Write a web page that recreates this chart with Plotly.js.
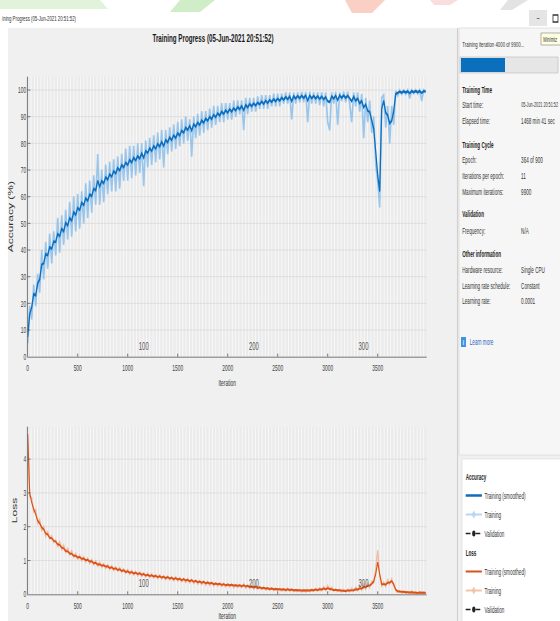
<!DOCTYPE html>
<html>
<head>
<meta charset="utf-8">
<script src="https://cdn.plot.ly/plotly-3.0.1.min.js"></script>
<style>
html,body{margin:0;padding:0;overflow:hidden;background:#fff;width:560px;height:621px;}
#wrap{position:fixed;left:0;top:0;width:560px;height:621px;overflow:hidden;}
#chart{position:absolute;left:0;top:0;transform-origin:0 0;}
</style>
</head>
<body>
<div id="wrap"><div id="chart"></div></div>
<script>
// ---------------- DATA ----------------
const rawStep = 20; // training points every 20 iterations
const accRaw = [
 5,19,14,27,19,31,24,40,29,43,33,46,35,47,38,52,39,53,42,55,
 44,58,45,60,47,61,48,62,50,65,52,66,54,68,57,76,57,70,58,72,
 61,73,62,74,62,75,63,76,66,78,66,79,67,79,68,80,69,80,64,81,
 71,82,72,83,73,84,74,85,71,85,76,86,77,87,78,88,79,89,80,90,
 81,89,75,90,82,91,83,92,84,92,85,93,86,94,87,94,88,95,88,95,
 89,95,89,96,90,96,91,96,85,97,91,97,92,97,92,97.5,93,98,93,98,
 93,98,94,98.5,94,98.5,94,98.5,95,99,95,99,89,99,95,99,95.5,99.2,95.5,99.2,
 88,99.3,95,99,95,99,94.5,99,94,99,88,85,99,95,99.3,87,99,96,99.3,95.5,
 99.3,95,88,99,94,99,92,98.5,82,97,88,96,84,90,72,66,56,97,98,86,
 94,80,94,87,99.5,98,99.8,98.5,99.8,98.5,99.9,97,99.9,98.8,99.9,98.7,99.9,96,99.9,99.2
];
const accSmooth = [
 7.5,16,18.5,23.5,23,27.5,29,34.5,35,38.5,
 38,41,40.5,43.2,43,46,45.2,48,47,50.2,
 49.2,52,51,54.2,53.2,55.8,55,57.8,56.8,59.4,
 58.5,60.8,60.2,63,62.4,66,63.8,65.9,65,67.3,
 66.4,68.4,67.5,69.6,68.7,70.8,69.8,71.9,71,72.8,
 71.9,73.8,72.8,74.6,73.6,75.2,74.3,76.3,74.6,77.2,
 76.4,78.2,77.1,79,78,79.8,78.8,80.6,79,81.3,
 80.4,82.2,81.2,83,82,83.8,82.9,84.8,84,85.9,
 85,86.6,84.8,87.2,86.3,87.8,86.9,88.6,87.7,89.3,
 88.5,90,89.1,90.7,89.8,91.3,90.4,91.9,91,92.4,
 91.5,92.8,91.9,93.2,92.3,93.6,92.8,94,92.4,94.4,
 93.5,94.8,93.9,95,94.2,95.3,94.6,95.7,94.8,96,
 95.1,96.3,95.5,96.6,95.8,96.8,96,97.1,96.3,97.4,
 96.5,97.6,95.8,97.7,96.8,97.8,96.9,97.9,97,98,
 96,97.9,96.9,97.8,96.8,97.7,96.6,97.6,96.5,97.4,
 95.8,95.5,97.6,96.8,97.9,96.2,98,97.1,98,97,
 97.9,96.8,95.8,97.5,96,96.8,95,95.9,93.5,94.6,
 92.2,91.8,88.5,85.5,77,68,62,93,96,91.5,
 90.5,87.5,88.5,92,98.5,98.9,99.4,99,99.5,99.1,
 99.5,98.8,99.6,99.2,99.6,99.2,99.6,98.9,99.6,99.5
];
const lossRaw = [
 4.7,2.9,2.85,2.45,2.5,2.1,2.2,1.9,2.0,1.72,1.85,1.65,1.72,1.55,1.6,1.42,1.55,1.33,1.45,1.25,
 1.35,1.17,1.28,1.1,1.2,1.05,1.15,1.0,1.1,0.96,1.06,0.92,1.02,0.88,0.98,0.84,0.94,0.8,0.9,0.77,
 0.87,0.74,0.84,0.71,0.8,0.69,0.78,0.66,0.74,0.63,0.72,0.6,0.69,0.58,0.67,0.56,0.65,0.54,0.63,0.52,
 0.61,0.5,0.59,0.49,0.57,0.47,0.56,0.46,0.54,0.44,0.53,0.43,0.51,0.41,0.5,0.4,0.48,0.38,0.46,0.36,
 0.45,0.35,0.43,0.33,0.41,0.31,0.4,0.3,0.38,0.28,0.37,0.27,0.35,0.26,0.33,0.25,0.32,0.24,0.31,0.23,
 0.3,0.22,0.29,0.21,0.28,0.21,0.27,0.2,0.3,0.19,0.26,0.18,0.24,0.17,0.23,0.16,0.21,0.15,0.2,0.14,
 0.19,0.13,0.18,0.12,0.17,0.12,0.16,0.11,0.15,0.1,0.17,0.1,0.14,0.09,0.13,0.09,0.13,0.08,0.12,0.08,
 0.13,0.09,0.14,0.1,0.16,0.1,0.18,0.11,0.22,0.12,0.25,0.13,0.2,0.1,0.15,0.09,0.14,0.08,0.13,0.08,
 0.14,0.09,0.17,0.1,0.2,0.12,0.25,0.13,0.3,0.16,0.32,0.2,0.38,0.35,0.75,1.3,0.55,0.25,0.35,0.24,
 0.42,0.3,0.45,0.25,0.12,0.07,0.1,0.05,0.08,0.04,0.07,0.04,0.08,0.03,0.06,0.03,0.06,0.03,0.06,0.04
];
const lossSmooth = [
 4.75,3.0,2.72,2.52,2.37,2.18,2.1,1.98,1.92,1.8,
 1.77,1.67,1.66,1.58,1.56,1.48,1.46,1.38,1.36,1.28,
 1.27,1.21,1.2,1.14,1.14,1.09,1.1,1.05,1.06,1.01,
 1.02,0.97,0.98,0.92,0.93,0.88,0.89,0.85,0.86,0.82,
 0.83,0.78,0.8,0.75,0.77,0.72,0.74,0.69,0.71,0.66,
 0.68,0.64,0.66,0.62,0.64,0.6,0.62,0.58,0.6,0.56,
 0.58,0.54,0.56,0.53,0.55,0.51,0.53,0.5,0.52,0.48,
 0.51,0.47,0.49,0.45,0.48,0.44,0.46,0.42,0.45,0.41,
 0.43,0.39,0.42,0.37,0.4,0.36,0.38,0.34,0.37,0.33,
 0.35,0.32,0.34,0.3,0.32,0.3,0.31,0.28,0.3,0.27,
 0.29,0.27,0.28,0.26,0.27,0.25,0.27,0.24,0.27,0.23,
 0.25,0.22,0.23,0.2,0.22,0.19,0.21,0.18,0.19,0.17,
 0.18,0.16,0.17,0.15,0.16,0.15,0.16,0.14,0.15,0.13,
 0.15,0.13,0.14,0.12,0.13,0.12,0.13,0.11,0.12,0.11,
 0.12,0.11,0.13,0.12,0.14,0.13,0.15,0.14,0.17,0.15,
 0.18,0.16,0.16,0.13,0.13,0.12,0.12,0.11,0.11,0.1,
 0.11,0.11,0.13,0.12,0.15,0.14,0.17,0.17,0.21,0.21,
 0.25,0.26,0.31,0.38,0.6,0.95,0.6,0.3,0.3,0.29,
 0.34,0.35,0.39,0.3,0.14,0.09,0.08,0.07,0.07,0.06,
 0.06,0.05,0.06,0.05,0.05,0.04,0.05,0.04,0.05,0.04
];
const iterTicks = [0,500,1000,1500,2000,2500,3000,3500];
const accTicks = [0,10,20,30,40,50,60,70,80,90,100];
const lossTicks = [0,1,2,3,4];
const epochMarks = [1100,2200,3300];
const epochLabels = ['100','200','300'];
const infoRows = [
 ['Training Time','',true,90],
 ['Start time:','05-Jun-2021 20:51:52',false,105],
 ['Elapsed time:','1468 min 41 sec',false,121],
 ['Training Cycle','',true,145],
 ['Epoch:','364 of 900',false,160],
 ['Iterations per epoch:','11',false,176],
 ['Maximum iterations:','9900',false,192],
 ['Validation','',true,214],
 ['Frequency:','N/A',false,231],
 ['Other information','',true,254],
 ['Hardware resource:','Single CPU',false,270],
 ['Learning rate schedule:','Constant',false,286],
 ['Learning rate:','0.0001',false,301]
];
// ---------------------------------------------------------------

const S = 0.54;                 // horizontal squeeze of the screenshot
const W = Math.round(560 / S);
const H = 621;
const el = document.getElementById('chart');
el.style.width = W + 'px'; el.style.height = H + 'px';
el.style.transform = 'scaleX(' + (560 / W) + ')';

const FONT = "'Liberation Sans', Arial, sans-serif";
const px = x => x / 560;
const py = y => 1 - y / 621;

const accIter = accRaw.map((_, i) => i * rawStep);
const accSmoothIter = accSmooth.map((_, i) => i * rawStep);
const lossIter = lossRaw.map((_, i) => i * rawStep);
const lossSmoothIter = lossSmooth.map((_, i) => i * rawStep);

const traces = [
 {x: accIter, y: accRaw, xaxis:'x', yaxis:'y', mode:'lines', line:{color:'rgba(120,182,234,0.72)', width:3}, showlegend:false, hoverinfo:'skip'},
 {x: accSmoothIter, y: accSmooth, xaxis:'x', yaxis:'y', mode:'lines', line:{color:'#0b6ebf', width:2.4}, name:'Training (smoothed)', legendgroup:'acc', legendgrouptitle:{text:'Accuracy', font:{size:8.5, weight:'bold', color:'#222'}}, legendrank:1},
 {x:[null], y:[null], xaxis:'x', yaxis:'y', mode:'lines+markers', line:{color:'#b7d6f0', width:2}, marker:{symbol:'diamond', size:6, color:'#b7d6f0'}, name:'Training', legendgroup:'acc', legendrank:2},
 {x:[null], y:[null], xaxis:'x', yaxis:'y', mode:'lines+markers', line:{color:'#222', width:1.5, dash:'dash'}, marker:{symbol:'circle', size:6, color:'#222'}, name:'Validation', legendgroup:'acc', legendrank:3},
 {x: lossIter, y: lossRaw, xaxis:'x2', yaxis:'y2', mode:'lines', line:{color:'rgba(242,150,110,0.6)', width:2.4}, showlegend:false, hoverinfo:'skip'},
 {x: lossSmoothIter, y: lossSmooth, xaxis:'x2', yaxis:'y2', mode:'lines', line:{color:'#d95319', width:2}, name:'Training (smoothed)', legendgroup:'loss', legendgrouptitle:{text:'Loss', font:{size:8.5, weight:'bold', color:'#222'}}, legendrank:4},
 {x:[null], y:[null], xaxis:'x2', yaxis:'y2', mode:'lines+markers', line:{color:'#f5c3aa', width:2}, marker:{symbol:'diamond', size:6, color:'#f5c3aa'}, name:'Training', legendgroup:'loss', legendrank:5},
 {x:[null], y:[null], xaxis:'x2', yaxis:'y2', mode:'lines+markers', line:{color:'#222', width:1.5, dash:'dash'}, marker:{symbol:'circle', size:6, color:'#222'}, name:'Validation', legendgroup:'loss', legendrank:6}
];

const xDom = [px(27.7), px(426.7)];
const xAxisBase = {
 domain: xDom, range:[0,3990], tickvals: iterTicks, ticktext: iterTicks.map(String),
 showgrid:false, zeroline:false, showline:true, linecolor:'#555', linewidth:1,
 ticks:'inside', ticklen:3, tickcolor:'#555', tickfont:{size:9, color:'#404040', family:FONT}, ticklabelstandoff:3,
 minor:{dtick:33, tick0:0, showgrid:true, gridcolor:'#fafafa', gridwidth:1.6, ticks:''},
 automargin:false, fixedrange:true
};
const yAxisBase = {
 showgrid:true, gridcolor:'#d9d9d9', gridwidth:1, zeroline:false, showline:true, linecolor:'#555', linewidth:1,
 ticks:'inside', ticklen:5, tickcolor:'#555', tickfont:{size:9, color:'#404040', family:FONT},
 automargin:false, fixedrange:true
};

const shapes = [
 // top watermark strokes
 {type:'path', xref:'paper', yref:'paper', path:`M0,${py(0)} L${px(100)},${py(0)} L${px(108)},${py(9)} L0,${py(9)} Z`, fillcolor:'rgba(200,235,190,0.55)', line:{width:0}, layer:'below'},
 {type:'path', xref:'paper', yref:'paper', path:`M${px(180)},${py(0)} L${px(215)},${py(0)} L${px(200)},${py(12)} L${px(170)},${py(12)} Z`, fillcolor:'rgba(175,225,160,0.6)', line:{width:0}, layer:'below'},
 {type:'path', xref:'paper', yref:'paper', path:`M${px(345)},${py(0)} L${px(385)},${py(0)} L${px(372)},${py(13)} L${px(352)},${py(13)} Z`, fillcolor:'rgba(245,170,150,0.55)', line:{width:0}, layer:'below'},
 {type:'path', xref:'paper', yref:'paper', path:`M${px(430)},${py(0)} L${px(458)},${py(0)} L${px(450)},${py(5)} L${px(434)},${py(5)} Z`, fillcolor:'rgba(245,190,190,0.5)', line:{width:0}, layer:'below'},
 {type:'path', xref:'paper', yref:'paper', path:`M${px(508)},${py(0)} L${px(528)},${py(0)} L${px(512)},${py(10)} L${px(500)},${py(10)} Z`, fillcolor:'rgba(200,200,200,0.5)', line:{width:0}, layer:'below'},
 // main figure area
 {type:'rect', xref:'paper', yref:'paper', x0:px(8), x1:px(560), y0:0, y1:py(28), fillcolor:'#f0f0f0', line:{width:0}, layer:'below'},
 // plot backgrounds
 {type:'rect', xref:'paper', yref:'paper', x0:xDom[0], x1:xDom[1], y0:py(356.7), y1:py(76.7), fillcolor:'#ebebeb', line:{width:0}, layer:'below'},
 {type:'rect', xref:'paper', yref:'paper', x0:xDom[0], x1:xDom[1], y0:py(594.3), y1:py(426.7), fillcolor:'#ebebeb', line:{width:0}, layer:'below'},
 // right info panel
 {type:'rect', xref:'paper', yref:'paper', x0:px(459), x1:1.01, y0:py(455), y1:py(28), fillcolor:'#f6f6f6', line:{color:'#dadada', width:1}, layer:'below'},
 {type:'rect', xref:'paper', yref:'paper', x0:px(462), x1:1.01, y0:-0.01, y1:py(459), fillcolor:'#ffffff', line:{color:'#e0e0e0', width:1}, layer:'below'},
 {type:'line', xref:'paper', yref:'paper', x0:px(457.5), x1:px(457.5), y0:0, y1:py(28), line:{color:'#d0d0d0', width:2}, layer:'below'},
 // window buttons
 {type:'rect', xref:'paper', yref:'paper', x0:px(529), x1:px(547), y0:py(26), y1:py(10), fillcolor:'#e5e5e5', line:{width:0}, layer:'below'},
 {type:'rect', xref:'paper', yref:'paper', x0:px(553), x1:px(558), y0:py(22), y1:py(15), fillcolor:'rgba(0,0,0,0)', line:{color:'#333', width:1.5}},
 // tooltip
 {type:'rect', xref:'paper', yref:'paper', x0:px(541), x1:1.01, y0:py(45), y1:py(33), fillcolor:'#ffffe1', line:{color:'#9a9a9a', width:1}},
 // progress bar
 {type:'rect', xref:'paper', yref:'paper', x0:px(460), x1:px(558), y0:py(73), y1:py(57), fillcolor:'#e6e6e6', line:{color:'#c4c4c4', width:1}},
 {type:'rect', xref:'paper', yref:'paper', x0:px(461), x1:px(505), y0:py(72), y1:py(58), fillcolor:'#0a6fbd', line:{width:0}},
 // info icon
 {type:'rect', xref:'paper', yref:'paper', x0:px(461), x1:px(466), y0:py(347), y1:py(337), fillcolor:'#3f93e0', line:{width:0}}
];

const ann = [];
const txt = (text, x, y, size, opts) => ann.push(Object.assign({xref:'paper', yref:'paper', x:px(x), y:py(y), text:text, showarrow:false, xanchor:'left', yanchor:'middle', font:{size:size, family:FONT, color:'#333'}}, opts || {}));
txt('ining Progress (05-Jun-2021 20:51:52)', 1, 18, 8);
txt('–', 538, 18, 9, {xanchor:'center'});
txt('Minimiz', 542, 39, 7.5);
txt('Training iteration 4000 of 9900...', 461, 45, 8);
infoRows.forEach(r => {
 txt(r[0], 461, r[3], 8.5, r[2] ? {font:{size:8.5, family:FONT, color:'#222', weight:'bold'}} : {});
 if (r[1]) txt(r[1], 520, r[3], r[1].length > 16 ? 7 : 8.5);
});
txt('i', 463.5, 342, 8, {xanchor:'center', font:{size:8, family:FONT, color:'#fff', weight:'bold'}});
txt('Learn more', 469, 342, 8.5, {font:{size:8.5, family:FONT, color:'#1f5fbf'}});
epochMarks.forEach((m, i) => {
 ann.push({xref:'x', yref:'y', x:m, y:4, text:epochLabels[i], showarrow:false, xanchor:'left', yanchor:'middle', font:{size:11, family:FONT, color:'#555'}});
 ann.push({xref:'x2', yref:'y2', x:m, y:0.33, text:epochLabels[i], showarrow:false, xanchor:'left', yanchor:'middle', font:{size:11, family:FONT, color:'#555'}});
});

const layout = {
 width: W, height: H,
 margin:{l:0, r:0, t:0, b:0, autoexpand:false},
 paper_bgcolor:'#ffffff', plot_bgcolor:'rgba(0,0,0,0)',
 font:{family:FONT, color:'#333'},
 title:{text:'Training Progress (05-Jun-2021 20:51:52)', x:px(213), xanchor:'center', y:py(38), yanchor:'middle', font:{size:11.5, family:FONT, color:'#1a1a1a', weight:'bold'}},
 xaxis: Object.assign({}, xAxisBase, {anchor:'y', title:{text:'Iteration', font:{size:9, color:'#333', family:FONT}, standoff:7}}),
 yaxis: Object.assign({}, yAxisBase, {domain:[py(356.7), py(76.7)], range:[0,105], tickvals: accTicks, anchor:'x', title:{text:'Accuracy (%)', font:{size:12, color:'#333', family:FONT}, standoff:6}}),
 xaxis2: Object.assign({}, xAxisBase, {anchor:'y2', title:{text:'Iteration', font:{size:9, color:'#333', family:FONT}, standoff:7}}),
 yaxis2: Object.assign({}, yAxisBase, {domain:[py(594.3), py(426.7)], range:[0,4.96], tickvals: lossTicks, anchor:'x2', title:{text:'Loss', font:{size:12, color:'#333', family:FONT}, standoff:8}}),
 showlegend:true,
 legend:{x:px(463), y:py(462), xanchor:'left', yanchor:'top', bgcolor:'rgba(0,0,0,0)', traceorder:'grouped', tracegroupgap:0, font:{size:8.5, family:FONT, color:'#333'}, itemclick:false, itemdoubleclick:false},
 shapes: shapes,
 annotations: ann,
 hovermode:false
};

Plotly.newPlot(el, traces, layout, {staticPlot:true, displayModeBar:false});
</script>
</body>
</html>
